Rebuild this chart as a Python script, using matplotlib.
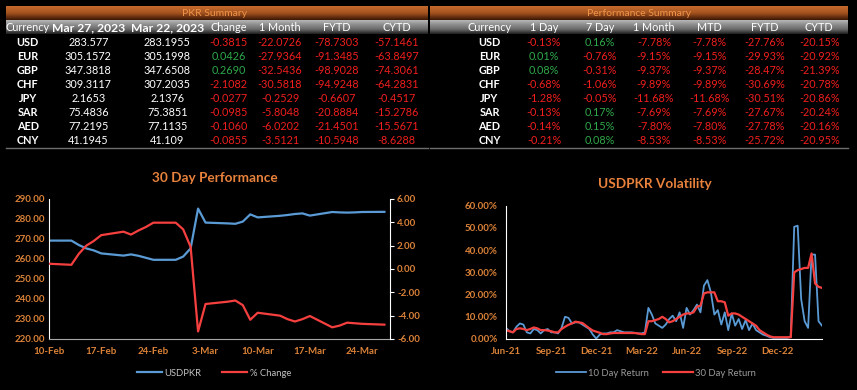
import numpy as np
import pandas as pd
import matplotlib
matplotlib.use("Agg")
import matplotlib.pyplot as plt
import matplotlib.dates as mdates
from matplotlib.colors import LinearSegmentedColormap

plt.rcParams['font.family'] = ['Lato', 'DejaVu Sans']

# ---------------- DATA ----------------
currencies = ["USD", "EUR", "GBP", "CHF", "JPY", "SAR", "AED", "CNY"]

pkr_headers = ["Currency", "Mar 27, 2023", "Mar 22, 2023", "Change", "1 Month", "FYTD", "CYTD"]
rate_mar27 = ["283.577", "305.1572", "347.3818", "309.3117", "2.1653", "75.4836", "77.2195", "41.1945"]
rate_mar22 = ["283.1955", "305.1998", "347.6508", "307.2035", "2.1376", "75.3851", "77.1135", "41.109"]
pkr_change = ["-0.3815", "0.0426", "0.2690", "-2.1082", "-0.0277", "-0.0985", "-0.1060", "-0.0855"]
pkr_1m = ["-22.0726", "-27.9364", "-32.5436", "-30.5818", "-0.2529", "-5.8048", "-6.0202", "-3.5121"]
pkr_fytd = ["-78.7303", "-91.3485", "-98.9028", "-94.9248", "-0.6607", "-20.8884", "-21.4501", "-10.5948"]
pkr_cytd = ["-57.1461", "-63.8497", "-74.3061", "-64.2831", "-0.4517", "-15.2786", "-15.5671", "-8.6288"]

perf_headers = ["Currency", "1 Day", "7 Day", "1 Month", "MTD", "FYTD", "CYTD"]
perf_1d = ["-0.13%", "0.01%", "0.08%", "-0.68%", "-1.28%", "-0.13%", "-0.14%", "-0.21%"]
perf_7d = ["0.16%", "-0.76%", "-0.31%", "-1.06%", "-0.05%", "0.17%", "0.15%", "0.08%"]
perf_1m = ["-7.78%", "-9.15%", "-9.37%", "-9.89%", "-11.68%", "-7.69%", "-7.80%", "-8.53%"]
perf_mtd = ["-7.78%", "-9.15%", "-9.37%", "-9.89%", "-11.68%", "-7.69%", "-7.80%", "-8.53%"]
perf_fytd = ["-27.76%", "-29.93%", "-28.47%", "-30.69%", "-30.51%", "-27.67%", "-27.78%", "-25.72%"]
perf_cytd = ["-20.15%", "-20.92%", "-21.39%", "-20.78%", "-20.86%", "-20.24%", "-20.16%", "-20.95%"]

perf_dates = ["2023-02-10", "2023-02-13", "2023-02-14", "2023-02-15", "2023-02-16", "2023-02-17",
              "2023-02-20", "2023-02-21", "2023-02-22", "2023-02-23", "2023-02-24",
              "2023-02-27", "2023-02-28", "2023-03-01", "2023-03-02", "2023-03-03",
              "2023-03-06", "2023-03-07", "2023-03-08", "2023-03-09", "2023-03-10",
              "2023-03-13", "2023-03-14", "2023-03-15", "2023-03-16", "2023-03-17",
              "2023-03-20", "2023-03-21", "2023-03-22", "2023-03-23", "2023-03-24",
              "2023-03-27"]
usdpkr = [269.2, 269.2, 267.0, 265.3, 264.3, 262.8,
          261.7, 262.3, 261.6, 260.6, 259.6,
          259.6, 261.2, 265.3, 285.2, 278.2,
          277.8, 277.6, 278.7, 282.3, 280.8,
          281.6, 282.0, 282.5, 282.8, 281.7,
          283.5, 283.3, 283.1955, 283.3, 283.5,
          283.577]
pct_change = [0.45, 0.36, 1.3, 2.0, 2.4, 2.9,
              3.2, 2.95, 3.3, 3.6, 3.97,
              3.97, 3.4, 1.9, -5.35, -3.0,
              -2.8, -2.7, -3.1, -4.35, -3.75,
              -4.0, -4.3, -4.5, -4.3, -4.03,
              -5.0, -4.85, -4.6, -4.65, -4.7,
              -4.77]
perf_ticks = ["2023-02-10", "2023-02-17", "2023-02-24", "2023-03-03", "2023-03-10", "2023-03-17", "2023-03-24"]

vol_start = "2021-06-28"
vol_10d = [5.0, 3.5, 3.0, 5.5, 7.0, 6.5, 3.0, 2.5, 4.5, 4.0,
           2.5, 4.0, 4.5, 3.0, 3.0, 2.5, 5.0, 10.0, 9.5, 7.0,
           7.5, 7.5, 6.5, 5.5, 4.5, 2.0, 0.2, 2.0, 2.5, 2.5,
           3.0, 3.0, 4.0, 3.5, 3.0, 3.0, 3.0, 2.8, 2.5, 2.5,
           3.0, 14.0, 11.0, 7.0, 6.0, 5.0, 6.5, 9.0, 10.5, 8.0,
           12.0, 5.0, 14.0, 11.0, 13.0, 15.5, 12.0, 24.0, 26.5, 21.0,
           11.0, 13.0, 6.5, 12.0, 4.0, 11.5, 6.0, 9.0, 4.5, 8.5,
           4.0, 7.0, 4.0, 3.0, 2.0, 1.5, 0.8, 0.5, 0.5, 0.5,
           0.5, 0.5, 1.0, 50.5, 51.0, 18.0, 8.0, 5.0, 38.0, 38.0,
           8.0, 6.0]
vol_30d = [4.0, 3.5, 3.0, 4.5, 4.8, 4.5, 4.0, 4.5, 5.2, 4.8,
           4.0, 4.0, 3.8, 3.5, 3.0, 3.0, 4.5, 5.5, 6.4, 7.0,
           7.8, 7.5, 7.2, 6.0, 4.8, 3.8, 3.3, 2.8, 2.2, 2.2,
           2.5, 2.7, 2.7, 2.7, 2.7, 2.7, 2.7, 2.7, 2.5, 2.2,
           2.2, 8.0, 8.0, 8.5, 9.0, 10.0, 9.0, 7.5, 8.0, 9.0,
           10.0, 11.0, 11.5, 11.5, 12.0, 14.5, 15.0, 20.5, 21.0, 21.0,
           21.0, 17.0, 17.0, 16.5, 10.5, 11.5, 11.5, 11.0, 10.0, 9.0,
           8.0, 7.0, 6.0, 4.0, 3.0, 2.0, 1.2, 0.8, 0.8, 0.8,
           0.8, 0.8, 0.8, 30.0, 31.0, 31.5, 32.0, 32.0, 38.5, 25.0,
           23.5, 23.0]
vol_ticks = ["2021-06-28", "2021-09-28", "2021-12-28", "2022-03-28", "2022-06-28", "2022-09-28", "2022-12-28"]

# ---------------- STYLE ----------------
W, H = 857, 390
BG = "black"
ORANGE = "#E8823C"
TICK_OR = "#DB8238"
RED_T = "#F01E1E"
GREEN_T = "#2FA84A"
BLUE = "#5B9BD5"
RED = "#F5403F"

fig = plt.figure(figsize=(W / 100, H / 100), dpi=100, facecolor=BG)

bg = fig.add_axes([0, 0, 1, 1], zorder=0)
bg.set_facecolor(BG)
bg.axis("off")


def grad(x0, x1, y0, y1, colors):
    cmap = LinearSegmentedColormap.from_list("g", colors)
    arr = np.linspace(0, 1, 64).reshape(-1, 1)
    bg.imshow(arr, cmap=cmap, extent=(x0, x1, y1, y0), aspect="auto",
              interpolation="bilinear", zorder=1)


band_cols = ["#C66A2C", "#A4531E", "#3A1606"]
head_cols = ["#B8B8B8", "#8C8C8C", "#6A6A6A", "#1E1E1E"]

grad(6, 428, 6, 20, band_cols)
grad(6, 428, 20, 34, head_cols)
grad(430, 848, 6, 20, band_cols)
grad(430, 848, 20, 34, head_cols)
bg.plot([6, 428], [148, 148], color="#6E6E6E", lw=1, zorder=2)
bg.plot([430, 848], [148, 148], color="#6E6E6E", lw=1, zorder=2)

bg.text(215, 13, "PKR Summary", color="#F0944A", fontsize=7.5, ha="center", va="center", zorder=3)
bg.text(639, 13, "Performance Summary", color="#F0944A", fontsize=7.5, ha="center", va="center", zorder=3)

row_y = [42.3, 56.4, 70.5, 84.4, 98.4, 112.4, 126.6, 140.6]
FS = 7.8

left_cols = [27.7, 88.3, 167.3, 228.7, 280.0, 336.7, 396.7]
for j, h in enumerate(pkr_headers):
    bold = j in (1, 2)
    bg.text(left_cols[j], 27.5, h, color="white", fontsize=8.7 if bold else FS,
            fontweight="bold" if bold else "normal", ha="center", va="center", zorder=3)

for i, cur in enumerate(currencies):
    y = row_y[i]
    bg.text(left_cols[0], y, cur, color="white", fontsize=FS, fontweight="bold",
            ha="center", va="center", zorder=3)
    bg.text(left_cols[1], y, rate_mar27[i], color="white", fontsize=FS, ha="center", va="center", zorder=3)
    bg.text(left_cols[2], y, rate_mar22[i], color="white", fontsize=FS, ha="center", va="center", zorder=3)
    for j, col in enumerate([pkr_change, pkr_1m, pkr_fytd, pkr_cytd]):
        v = col[i]
        c = RED_T if v.startswith("-") else GREEN_T
        bg.text(left_cols[3 + j], y, v, color=c, fontsize=FS, ha="center", va="center", zorder=3)

right_cols = [489.5, 544.0, 600.0, 654.0, 709.3, 765.0, 819.3]
for j, h in enumerate(perf_headers):
    bg.text(right_cols[j], 27.5, h, color="white", fontsize=FS, ha="center", va="center", zorder=3)
for i, cur in enumerate(currencies):
    y = row_y[i]
    bg.text(right_cols[0], y, cur, color="white", fontsize=FS, fontweight="bold",
            ha="center", va="center", zorder=3)
    for j, col in enumerate([perf_1d, perf_7d, perf_1m, perf_mtd, perf_fytd, perf_cytd]):
        v = col[i]
        c = RED_T if v.startswith("-") else GREEN_T
        bg.text(right_cols[1 + j], y, v, color=c, fontsize=FS, ha="center", va="center", zorder=3)

bg.set_xlim(0, W)
bg.set_ylim(H, 0)


def fx(px):
    return px / W


def fy(py):
    return 1 - py / H


# ---------------- 30 Day Performance ----------------
ax1 = fig.add_axes([fx(49), fy(339), fx(390 - 49), (339 - 199) / H], zorder=2)
ax1.set_facecolor("none")
d1 = pd.to_datetime(perf_dates)
l1, = ax1.plot(d1, usdpkr, color=BLUE, lw=1.6, label="USDPKR")
ax1.set_ylim(220, 290)
ax1.set_yticks(np.arange(220, 291, 10))
ax1.yaxis.set_major_formatter(matplotlib.ticker.FormatStrFormatter("%.2f"))
ax1.set_xlim(pd.Timestamp("2023-02-10"), pd.Timestamp("2023-03-27 18:00"))
ax1.set_xticks(pd.to_datetime(perf_ticks))
ax1.xaxis.set_major_formatter(mdates.DateFormatter("%-d-%b"))
for s in ["top", "right"]:
    ax1.spines[s].set_visible(False)
ax1.spines["left"].set_color("white")
ax1.spines["bottom"].set_color("#A6A6A6")
ax1.tick_params(axis="both", length=0, colors=TICK_OR, labelsize=7)
ax1.tick_params(axis="y", pad=3)
ax1.tick_params(axis="x", pad=6)
for t in ax1.get_xticklabels() + ax1.get_yticklabels():
    t.set_fontweight("bold")

ax2 = ax1.twinx()
l2, = ax2.plot(d1, pct_change, color=RED, lw=1.6, label="% Change")
ax2.set_ylim(-6, 6)
ax2.set_yticks(np.arange(-6, 6.1, 2))
ax2.yaxis.set_major_formatter(matplotlib.ticker.FormatStrFormatter("%.2f"))
for s in ["top", "left", "bottom"]:
    ax2.spines[s].set_visible(False)
ax2.spines["right"].set_color("white")
ax2.tick_params(axis="y", length=3, color="white", labelcolor=TICK_OR, labelsize=7,
                direction="out", pad=2)
for t in ax2.get_yticklabels():
    t.set_fontweight("bold")

fig.text(fx(215), fy(178), "30 Day Performance", color=ORANGE, fontsize=9.8,
         fontweight="bold", ha="center", va="center")
fig.legend([l1, l2], ["USDPKR", "% Change"], loc="center", bbox_to_anchor=(fx(214), fy(373)),
           ncol=2, frameon=False, fontsize=6.8, labelcolor="#BFBFBF", handlelength=2.6,
           columnspacing=2.2, handletextpad=0.3)

# ---------------- Volatility ----------------
ax3 = fig.add_axes([fx(506), fy(339), fx(822 - 506), (339 - 205.7) / H], zorder=2)
ax3.set_facecolor("none")
d3 = pd.date_range(vol_start, periods=len(vol_10d), freq="7D")
l3, = ax3.plot(d3, vol_10d, color=BLUE, lw=1.3, label="10 Day Return")
l4, = ax3.plot(d3, vol_30d, color=RED, lw=1.6, label="30 Day Return")
ax3.set_ylim(0, 60)
ax3.set_yticks(np.arange(0, 61, 10))
ax3.yaxis.set_major_formatter(matplotlib.ticker.FuncFormatter(lambda v, p: f"{v:.2f}%"))
ax3.set_xlim(d3[0], d3[-1])
ax3.set_xticks(pd.to_datetime(vol_ticks))
ax3.xaxis.set_major_formatter(mdates.DateFormatter("%b-%y"))
for s in ["top", "right"]:
    ax3.spines[s].set_visible(False)
ax3.spines["left"].set_color("white")
ax3.spines["bottom"].set_color("white")
ax3.tick_params(axis="both", length=0, colors=TICK_OR, labelsize=7)
ax3.tick_params(axis="y", pad=6)
ax3.tick_params(axis="x", pad=6)
for t in ax3.get_xticklabels() + ax3.get_yticklabels():
    t.set_fontweight("bold")

fig.text(fx(655), fy(184), "USDPKR Volatility", color=ORANGE, fontsize=9.8,
         fontweight="bold", ha="center", va="center")
fig.legend([l3, l4], ["10 Day Return", "30 Day Return"], loc="center",
           bbox_to_anchor=(fx(656), fy(373)), ncol=2, frameon=False, fontsize=6.8,
           labelcolor="#9A9A9A", handlelength=3.2, columnspacing=1.5, handletextpad=0.2)

fig.savefig("out.png", dpi=100, facecolor=BG)
